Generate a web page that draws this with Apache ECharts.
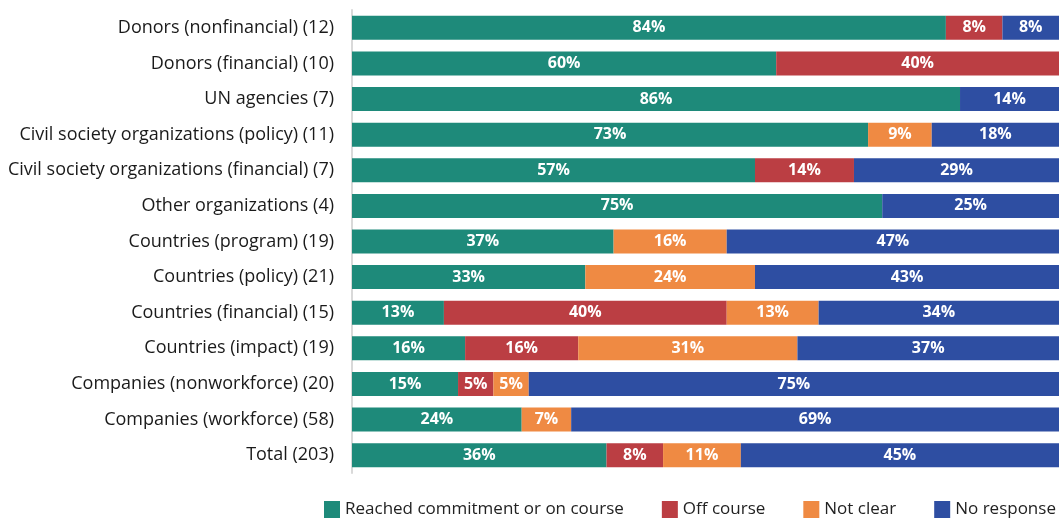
<!DOCTYPE html>
<html>
<head>
<meta charset="utf-8">
<script src="https://cdn.jsdelivr.net/npm/echarts@6/dist/echarts.min.js"></script>
<style>
  html, body { margin: 0; padding: 0; background: #fff; }
  #chart { width: 1059px; height: 519px; }
</style>
</head>
<body>
<div id="chart"></div>
<script>
// categories, top to bottom
var categories = [
  'Donors (nonfinancial) (12)',
  'Donors (financial) (10)',
  'UN agencies (7)',
  'Civil society organizations (policy) (11)',
  'Civil society organizations (financial) (7)',
  'Other organizations (4)',
  'Countries (program) (19)',
  'Countries (policy) (21)',
  'Countries (financial) (15)',
  'Countries (impact) (19)',
  'Companies (nonworkforce) (20)',
  'Companies (workforce) (58)',
  'Total (203)'
];
var reached    = [84, 60, 86, 73, 57, 75, 37, 33, 13, 16, 15, 24, 36];
var offCourse  = [8, 40, 0, 0, 14, 0, 0, 0, 40, 16, 5, 0, 8];
var notClear   = [0, 0, 0, 9, 0, 0, 16, 24, 13, 31, 5, 7, 11];
var noResponse = [8, 0, 14, 18, 29, 25, 47, 43, 34, 37, 75, 69, 45];

var seriesNames = ['Reached commitment or on course', 'Off course', 'Not clear', 'No response'];
var colors = ['#1E8A7A', '#BB3E43', '#EF8A43', '#2E4EA2'];

var chart = echarts.init(document.getElementById('chart'));

function makeSeries(name, data, color) {
  return {
    name: name,
    type: 'bar',
    stack: 'all',
    data: data,
    barWidth: 24,
    itemStyle: { color: color },
    label: {
      show: true,
      position: 'inside',
      color: '#fff',
      fontWeight: 'bold',
      fontSize: 16,
      fontFamily: 'Open Sans',
      formatter: function (p) { return p.value ? p.value + '%' : ''; }
    }
  };
}

chart.setOption({
  animation: false,
  textStyle: { fontFamily: 'Open Sans' },
  grid: { left: 352, right: 0, top: 10, bottom: 46, containLabel: false },
  legend: {
    top: 501,
    left: 324,
    width: 760,
    padding: 0,
    itemWidth: 16,
    itemHeight: 17,
    itemGap: 38,
    icon: 'rect',
    textStyle: { fontSize: 17, color: '#222', fontFamily: 'Open Sans' },
    data: seriesNames
  },
  xAxis: {
    type: 'value',
    min: 0,
    max: 100,
    show: false
  },
  yAxis: {
    type: 'category',
    inverse: true,
    data: categories,
    axisLine: { show: true, lineStyle: { color: '#d9d9d9', width: 2 } },
    axisTick: { show: false },
    axisLabel: { margin: 18, fontSize: 18, color: '#1a1a1a', fontFamily: 'Open Sans' }
  },
  series: [
    makeSeries(seriesNames[0], reached, colors[0]),
    makeSeries(seriesNames[1], offCourse, colors[1]),
    makeSeries(seriesNames[2], notClear, colors[2]),
    makeSeries(seriesNames[3], noResponse, colors[3])
  ]
});
</script>
</body>
</html>
